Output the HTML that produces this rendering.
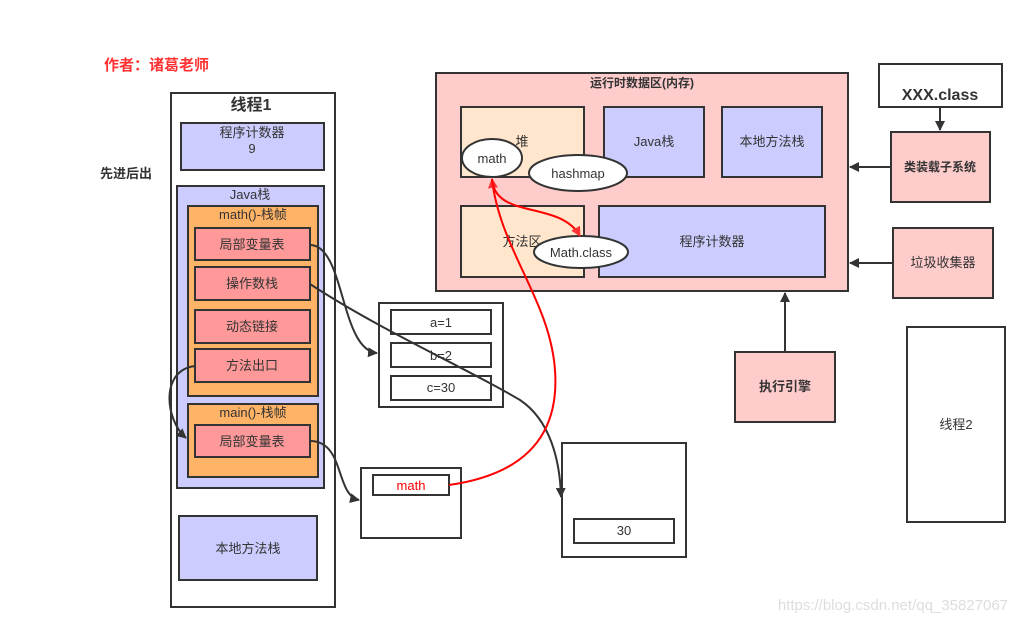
<!DOCTYPE html>
<html><head><meta charset="utf-8"><style>
html,body{margin:0;padding:0;background:#fff;}
svg text{font-family:"Liberation Sans","Noto Sans CJK SC",sans-serif;fill:#333;}
</style></head><body>
<svg width="1017" height="623" viewBox="0 0 1017 623" xmlns="http://www.w3.org/2000/svg">
<defs>
<marker id="ak" markerWidth="10" markerHeight="10" refX="9" refY="5" orient="auto" markerUnits="userSpaceOnUse"><path d="M0,0 L10,5 L0,10 z" fill="#333"/></marker>
<marker id="ar" markerWidth="10" markerHeight="10" refX="9" refY="5" orient="auto" markerUnits="userSpaceOnUse"><path d="M0,0 L10,5 L0,10 z" fill="#f33"/></marker>
</defs>
<g stroke="#333" stroke-width="2">
<text x="104" y="70" font-size="15" font-weight="bold" style="fill:#f33" stroke="none">作者：诸葛老师</text>
<text x="100" y="178" font-size="13" font-weight="bold" stroke="none">先进后出</text>
<rect x="171" y="93" width="164" height="514" fill="#fff"/>
<text x="251" y="110" font-size="16" font-weight="bold" text-anchor="middle" stroke="none">线程1</text>
<rect x="181" y="123" width="143" height="47" fill="#ccf"/>
<text x="252" y="137" font-size="13" text-anchor="middle" stroke="none">程序计数器</text>
<text x="252" y="153" font-size="13" text-anchor="middle" stroke="none">9</text>
<rect x="177" y="186" width="147" height="302" fill="#ccf"/>
<text x="250" y="199" font-size="13" text-anchor="middle" stroke="none">Java栈</text>
<rect x="188" y="206" width="130" height="190" fill="#ffb366"/>
<text x="253" y="219" font-size="13" text-anchor="middle" stroke="none">math()-栈帧</text>
<rect x="195" y="228" width="115" height="32" fill="#f99"/>
<text x="252" y="249" font-size="13" text-anchor="middle" stroke="none">局部变量表</text>
<rect x="195" y="267" width="115" height="33" fill="#f99"/>
<text x="252" y="288" font-size="13" text-anchor="middle" stroke="none">操作数栈</text>
<rect x="195" y="310" width="115" height="33" fill="#f99"/>
<text x="252" y="331" font-size="13" text-anchor="middle" stroke="none">动态链接</text>
<rect x="195" y="349" width="115" height="33" fill="#f99"/>
<text x="252" y="370" font-size="13" text-anchor="middle" stroke="none">方法出口</text>
<rect x="188" y="404" width="130" height="73" fill="#ffb366"/>
<text x="253" y="417" font-size="13" text-anchor="middle" stroke="none">main()-栈帧</text>
<rect x="195" y="425" width="115" height="32" fill="#f99"/>
<text x="252" y="446" font-size="13" text-anchor="middle" stroke="none">局部变量表</text>
<rect x="179" y="516" width="138" height="64" fill="#ccf"/>
<text x="248" y="553" font-size="13" text-anchor="middle" stroke="none">本地方法栈</text>

<rect x="379" y="303" width="124" height="104" fill="#fff"/>
<rect x="391" y="310" width="100" height="24" fill="#fff"/>
<text x="441" y="327" font-size="13" text-anchor="middle" stroke="none">a=1</text>
<rect x="391" y="343" width="100" height="24" fill="#fff"/>
<text x="441" y="360" font-size="13" text-anchor="middle" stroke="none">b=2</text>
<rect x="391" y="376" width="100" height="24" fill="#fff"/>
<text x="441" y="392" font-size="13" text-anchor="middle" stroke="none">c=30</text>

<rect x="361" y="468" width="100" height="70" fill="#fff"/>
<rect x="373" y="475" width="76" height="20" fill="#fff"/>
<text x="411" y="490" font-size="13" text-anchor="middle" style="fill:#f00" stroke="none">math</text>

<rect x="562" y="443" width="124" height="114" fill="#fff"/>
<rect x="574" y="519" width="100" height="24" fill="#fff"/>
<text x="624" y="535" font-size="13" text-anchor="middle" stroke="none">30</text>

<rect x="436" y="73" width="412" height="218" fill="#fcc"/>
<text x="642" y="87" font-size="12" font-weight="bold" text-anchor="middle" stroke="none">运行时数据区(内存)</text>
<rect x="461" y="107" width="123" height="70" fill="#ffe6cc"/>
<text x="522" y="146" font-size="13" text-anchor="middle" stroke="none">堆</text>
<rect x="604" y="107" width="100" height="70" fill="#ccf"/>
<text x="654" y="146" font-size="13" text-anchor="middle" stroke="none">Java栈</text>
<rect x="722" y="107" width="100" height="70" fill="#ccf"/>
<text x="772" y="146" font-size="13" text-anchor="middle" stroke="none">本地方法栈</text>
<rect x="461" y="206" width="123" height="71" fill="#ffe6cc"/>
<text x="522" y="246" font-size="13" text-anchor="middle" stroke="none">方法区</text>
<rect x="599" y="206" width="226" height="71" fill="#ccf"/>
<text x="712" y="246" font-size="13" text-anchor="middle" stroke="none">程序计数器</text>
<ellipse cx="492" cy="158" rx="30" ry="19" fill="#fff"/>
<text x="492" y="163" font-size="13" text-anchor="middle" stroke="none">math</text>
<ellipse cx="578" cy="173" rx="49" ry="18" fill="#fff"/>
<text x="578" y="178" font-size="13" text-anchor="middle" stroke="none">hashmap</text>
<ellipse cx="581" cy="252" rx="47" ry="16" fill="#fff"/>
<text x="581" y="257" font-size="13" text-anchor="middle" stroke="none">Math.class</text>

<rect x="879" y="64" width="123" height="43" fill="#fff"/>
<text x="940" y="100" font-size="16" font-weight="bold" text-anchor="middle" stroke="none">XXX.class</text>
<rect x="891" y="132" width="99" height="70" fill="#fcc"/>
<text x="940" y="171" font-size="12" font-weight="bold" text-anchor="middle" stroke="none">类装载子系统</text>
<rect x="893" y="228" width="100" height="70" fill="#fcc"/>
<text x="943" y="267" font-size="13" text-anchor="middle" stroke="none">垃圾收集器</text>
<rect x="735" y="352" width="100" height="70" fill="#fcc"/>
<text x="785" y="391" font-size="13" font-weight="bold" text-anchor="middle" stroke="none">执行引擎</text>
<rect x="907" y="327" width="98" height="195" fill="#fff"/>
<text x="956" y="429" font-size="13" text-anchor="middle" stroke="none">线程2</text>

<g fill="none">
<line x1="940" y1="107" x2="940" y2="130" marker-end="url(#ak)"/>
<line x1="891" y1="167" x2="850" y2="167" marker-end="url(#ak)"/>
<line x1="893" y1="263" x2="850" y2="263" marker-end="url(#ak)"/>
<line x1="785" y1="352" x2="785" y2="293" marker-end="url(#ak)"/>
<path d="M310,245 C345,245 340,350 377,353" marker-end="url(#ak)"/>
<path d="M310,284 C380,330 470,370 520,400 C550,420 560,460 561,497" marker-end="url(#ak)"/>
<path d="M195,366 C160,370 165,420 186,438" marker-end="url(#ak)"/>
<path d="M310,441 C345,441 335,495 359,500" marker-end="url(#ak)"/>
</g>
<g fill="none" stroke="#f00">
<path d="M449,485 C520,475 560,440 555,370 C550,300 500,250 492,179" marker-end="url(#ar)"/>
<path d="M492,179 C495,220 560,200 580,236" marker-end="url(#ar)"/>
</g>
<text x="1008" y="610" font-size="15" text-anchor="end" style="fill:#ddd" stroke="none">https://blog.csdn.net/qq_35827067</text>
</g>
</svg>
</body></html>
